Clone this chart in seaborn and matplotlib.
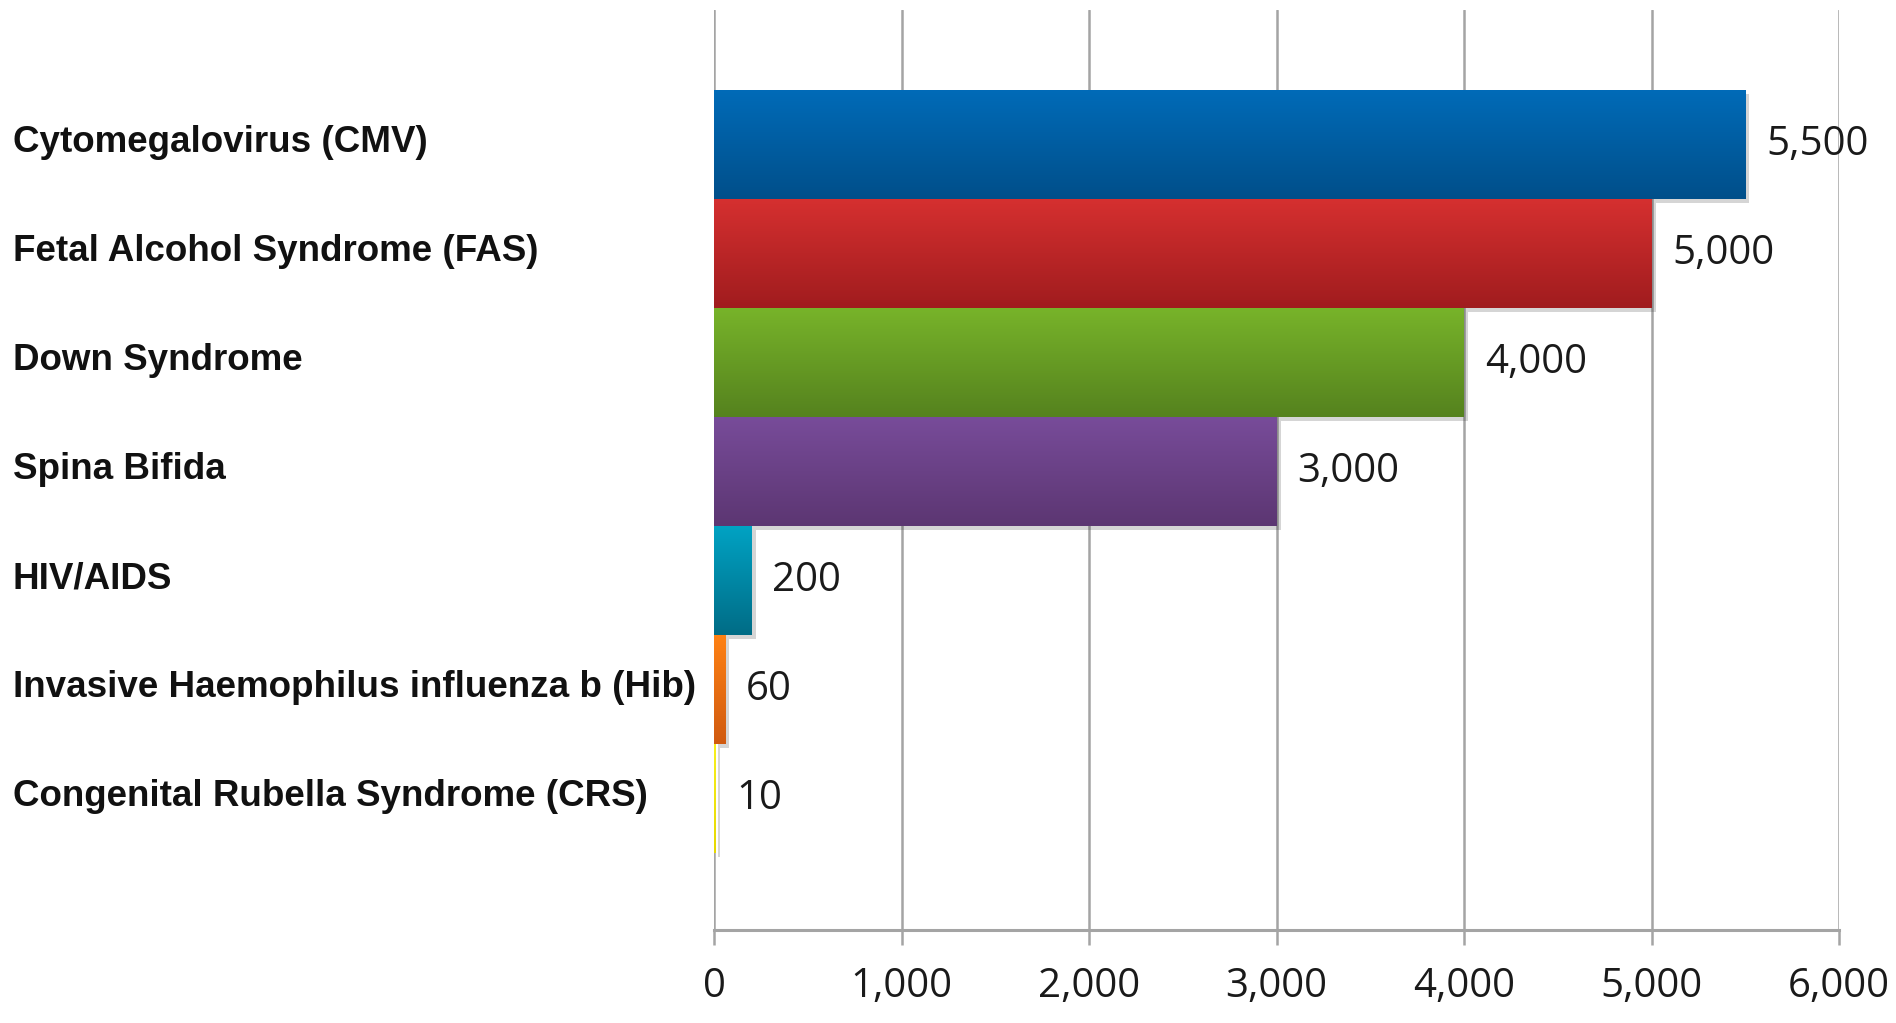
import numpy as np
import pandas as pd
import matplotlib
matplotlib.use("Agg")
import matplotlib.pyplot as plt
import matplotlib.patheffects as pe
import matplotlib.transforms as mtransforms
from matplotlib.colors import LinearSegmentedColormap
from matplotlib.ticker import FuncFormatter
import seaborn as sns

# ---- data ----
categories = [
    "Cytomegalovirus (CMV)",
    "Fetal Alcohol Syndrome (FAS)",
    "Down Syndrome",
    "Spina Bifida",
    "HIV/AIDS",
    "Invasive Haemophilus influenza b (Hib)",
    "Congenital Rubella Syndrome (CRS)",
]
values = [5500, 5000, 4000, 3000, 200, 60, 10]
top_colors = ["#006BB8", "#D63030", "#78B42A", "#784C9A", "#00A3C4", "#FF8214", "#F8F020"]
bottom_colors = ["#004F8A", "#A01C1E", "#55821E", "#5C3672", "#006C86", "#D05A10", "#E6D800"]
x_ticks = [0, 1000, 2000, 3000, 4000, 5000, 6000]

df = pd.DataFrame({"category": categories, "value": values})

sns.set_theme(style="white")
W, H, DPI = 1896, 1023, 100
fig = plt.figure(figsize=(W / DPI, H / DPI), dpi=DPI)
ax = fig.add_axes([714 / W, 1 - 930 / H, (1839 - 714) / W, (930 - 10) / H])

sns.barplot(data=df, x="value", y="category", hue="category",
            palette=top_colors, legend=False, width=1.0, orient="h",
            saturation=1.0, ax=ax, zorder=2)

# gradient fill + soft shadow for each bar
for patch, c_top, c_bot in zip(ax.patches, top_colors, bottom_colors):
    patch.set_edgecolor("none")
    patch.set_path_effects([pe.SimplePatchShadow(offset=(3, -3), alpha=0.18, shadow_rgbFace="k"),
                            pe.Normal()])
    x0, y0 = patch.get_x(), patch.get_y()
    w, h = patch.get_width(), patch.get_height()
    cmap = LinearSegmentedColormap.from_list("g", [c_top, c_bot])
    grad = np.linspace(0, 1, 256).reshape(-1, 1)
    im = ax.imshow(grad, cmap=cmap, aspect="auto", origin="upper",
                   extent=(x0, x0 + w, y0 + h, y0), zorder=2.5, interpolation="bilinear")
    im.set_clip_path(patch)

ax.set_xlim(0, 6000)
ax.set_ylim(7.206, -1.234)
ax.set_xticks(x_ticks)
ax.xaxis.set_major_formatter(FuncFormatter(lambda v, p: f"{int(v):,}"))

grid_c = "#A4A4A4"
ax.set_axisbelow(True)
ax.grid(axis="x", color=grid_c, linewidth=1.8)
ax.grid(axis="y", visible=False)
for s in ["top", "right", "left"]:
    ax.spines[s].set_visible(False)
ax.spines["bottom"].set_color(grid_c)
ax.spines["bottom"].set_linewidth(2.2)

ax.tick_params(axis="x", bottom=True, direction="out", length=11, width=1.8,
               color=grid_c, pad=15, labelsize=29, labelcolor="#1a1a1a")
for lab in ax.get_xticklabels():
    lab.set_fontfamily("Open Sans")

ax.tick_params(axis="y", left=False, length=0, pad=701 * 72 / DPI, labelsize=26.5, labelcolor="#111111")
shift_up = mtransforms.ScaledTranslation(0, 4 / 72, fig.dpi_scale_trans)
for lab in ax.get_yticklabels():
    lab.set_fontfamily("Liberation Sans")
    lab.set_fontweight("bold")
    lab.set_horizontalalignment("left")
    lab.set_transform(lab.get_transform() + shift_up)

ax.set_xlabel("")
ax.set_ylabel("")

# value labels
for i, v in enumerate(values):
    ax.annotate(f"{v:,}", xy=(v, i), xytext=(15, 0), textcoords="offset points",
                va="center", ha="left", fontsize=29, family="Open Sans",
                color="#1a1a1a", zorder=5)

fig.savefig("out.png", dpi=DPI, facecolor="white")
